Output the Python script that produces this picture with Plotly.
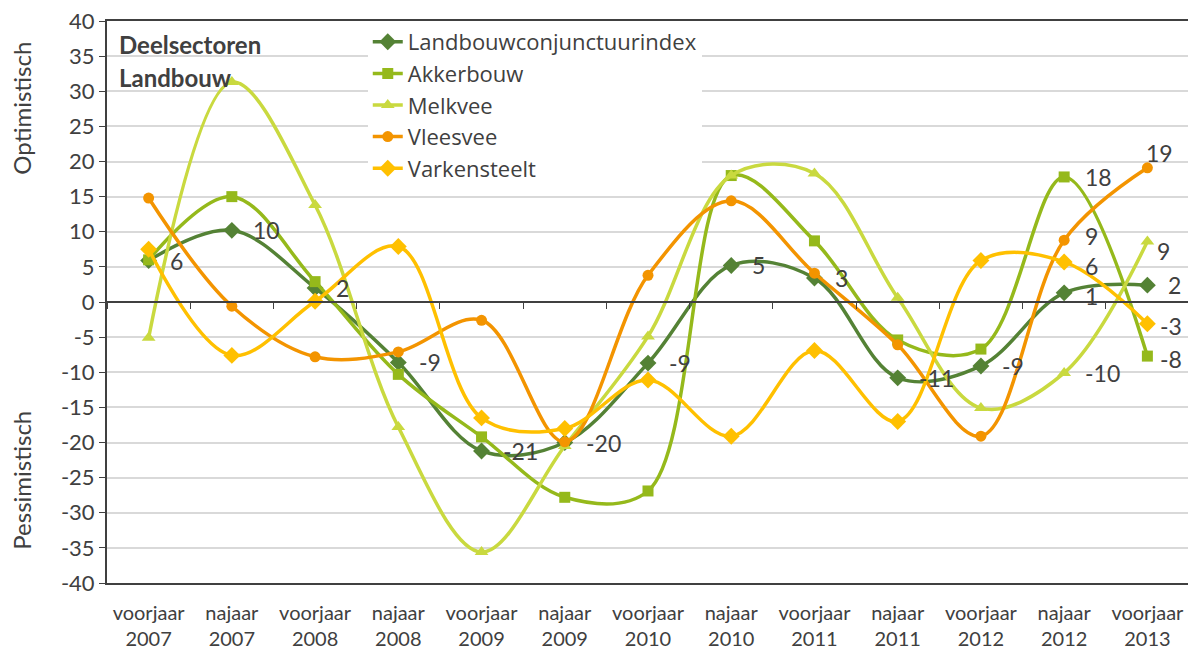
import plotly.graph_objects as go

categories = ["voorjaar<br>2007", "najaar<br>2007", "voorjaar<br>2008", "najaar<br>2008",
              "voorjaar<br>2009", "najaar<br>2009", "voorjaar<br>2010", "najaar<br>2010",
              "voorjaar<br>2011", "najaar<br>2011", "voorjaar<br>2012", "najaar<br>2012",
              "voorjaar<br>2013"]

landbouw = [5.9, 10.2, 2.0, -8.6, -21.2, -20.0, -8.7, 5.2, 3.4, -10.8, -9.1, 1.3, 2.4]
akkerbouw = [6.0, 15.0, 2.9, -10.3, -19.2, -27.8, -26.9, 18.0, 8.7, -5.4, -6.7, 17.8, -7.7]
melkvee = [-5.1, 31.3, 13.8, -17.8, -35.6, -20.5, -4.9, 18.0, 18.3, 0.6, -15.1, -10.1, 8.6]
vleesvee = [14.8, -0.6, -7.8, -7.1, -2.6, -19.9, 3.8, 14.4, 4.1, -6.1, -19.1, 8.8, 19.1]
varkensteelt = [7.5, -7.6, 0.1, 7.9, -16.5, -18.0, -11.1, -19.1, -6.9, -17.0, 5.9, 5.7, -3.1]

y_tickvals = list(range(-40, 45, 5))
y_ticktext = [str(v) for v in y_tickvals]

series = [
    ("Landbouwconjunctuurindex", landbouw, "#548235", "diamond", 13),
    ("Akkerbouw", akkerbouw, "#95B91B", "square", 11),
    ("Melkvee", melkvee, "#C9D93F", "triangle-up", 12),
    ("Vleesvee", vleesvee, "#F39400", "circle", 11),
    ("Varkensteelt", varkensteelt, "#FFC000", "diamond", 13),
]

# which points carry data labels
label_points = {
    "Landbouwconjunctuurindex": list(range(13)),
    "Akkerbouw": [11, 12],
    "Melkvee": [11, 12],
    "Vleesvee": [11, 12],
    "Varkensteelt": [11, 12],
}
# label nudges (xshift, yshift) in px where they differ from the default
label_nudge = {
    ("Vleesvee", 12): (-3, 15),
    ("Vleesvee", 11): (19, 4),
    ("Varkensteelt", 11): (19, -4),
    ("Melkvee", 12): (8, -9),
    ("Varkensteelt", 12): (11, -2),
    ("Akkerbouw", 12): (11, -3),
    ("Landbouwconjunctuurindex", 11): (19, -3),
}
DEFAULT_NUDGE = (19, 0)

TXT = "#404040"
FONT = "Lato"

fig = go.Figure()
for name, vals, color, sym, size in series:
    fig.add_trace(go.Scatter(
        x=categories, y=vals, name=name, mode="lines+markers",
        line=dict(color=color, width=3.5, shape="spline", smoothing=1.0),
        marker=dict(symbol=sym, size=size, color=color),
        hoverinfo="skip",
    ))

# invisible trace to register the zero-line category axis
fig.add_trace(go.Scatter(x=categories, y=landbouw, xaxis="x2", mode="markers",
                         marker=dict(opacity=0), showlegend=False, hoverinfo="skip"))

annotations = []
for name, vals, color, sym, size in series:
    for i in label_points[name]:
        xs, ys = label_nudge.get((name, i), DEFAULT_NUDGE)
        annotations.append(dict(
            x=categories[i], y=vals[i], xref="x", yref="y",
            text=str(round(vals[i])), showarrow=False,
            xanchor="left", yanchor="middle", xshift=xs, yshift=ys,
            font=dict(family=FONT, size=23, color=TXT),
        ))

annotations += [
    dict(x=0.009, y=1 - (44 - 21) / 562, xref="paper", yref="paper",
         text="<b>Deelsectoren</b>", showarrow=False, xanchor="left", yanchor="middle",
         font=dict(family=FONT, size=24, color=TXT)),
    dict(x=0.009, y=1 - (77 - 21) / 562, xref="paper", yref="paper",
         text="<b>Landbouw</b>", showarrow=False, xanchor="left", yanchor="middle",
         font=dict(family=FONT, size=24, color=TXT)),
    dict(x=-0.079, y=0.845, xref="paper", yref="paper", text="Optimistisch",
         textangle=-90, showarrow=False, xanchor="center", yanchor="middle",
         font=dict(family=FONT, size=24, color=TXT)),
    dict(x=-0.079, y=0.183, xref="paper", yref="paper", text="Pessimistisch",
         textangle=-90, showarrow=False, xanchor="center", yanchor="middle",
         font=dict(family=FONT, size=24, color=TXT)),
]

fig.update_layout(
    width=1188, height=645,
    margin=dict(l=99, r=7, t=13, b=70, autoexpand=False),
    paper_bgcolor="white", plot_bgcolor="white",
    font=dict(family=FONT, size=20, color=TXT),
    showlegend=True,
    legend=dict(x=0.241, y=1.0, xanchor="left", yanchor="top",
                bgcolor="white", borderwidth=0,
                font=dict(family="Open Sans", size=22, color=TXT),
                tracegroupgap=0),
    xaxis=dict(type="category", categoryorder="array", categoryarray=categories,
               range=[-0.5, 12.5], showgrid=False, ticks="", showline=True,
               linecolor="#404040", linewidth=2, mirror=True, ticklabelstandoff=11,
               automargin=False,
               tickfont=dict(family=FONT, size=20, color=TXT), zeroline=False),
    xaxis2=dict(type="category", categoryorder="array", categoryarray=categories,
                range=[-0.5, 12.5], overlaying="x", anchor="free", position=0.5,
                side="bottom", showline=True, linecolor="#404040", linewidth=1.5,
                ticks="outside", tickson="boundaries", ticklen=6, tickcolor="#404040",
                showticklabels=False, showgrid=False, automargin=False),
    yaxis=dict(range=[-40, 40], tickmode="array", tickvals=y_tickvals, ticktext=y_ticktext,
               showgrid=True, gridcolor="#D9D9D9", ticklabeloverflow="allow",
               automargin=False,
               gridwidth=1.5, zeroline=False, showline=True, linecolor="#404040",
               linewidth=2, mirror=True, ticks="outside", ticklen=6,
               tickcolor="#404040", tickfont=dict(family=FONT, size=22, color=TXT)),
    annotations=annotations,
)

fig.write_html("out.html")
